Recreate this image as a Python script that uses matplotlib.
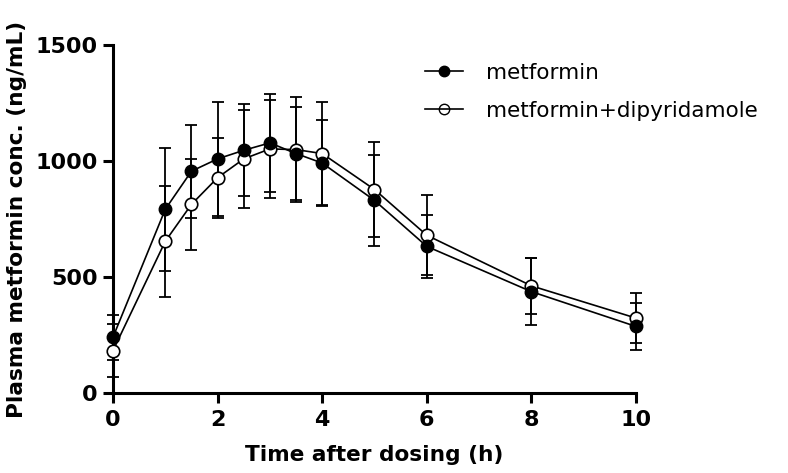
import numpy as np
import matplotlib
matplotlib.use("Agg")
import matplotlib.pyplot as plt
from matplotlib.lines import Line2D

plt.rcParams['font.family'] = ['DejaVu Sans']

# data (mean +/- SD, ng/mL)
time_h = [0, 1, 1.5, 2, 2.5, 3, 3.5, 4, 5, 6, 8, 10]
met_mean = [241, 792, 956, 1009, 1046, 1078, 1032, 991, 830, 632, 437, 287]
met_sd = [97, 265, 201, 246, 199, 212, 200, 184, 196, 135, 143, 100]
dip_mean = [183, 654, 813, 928, 1009, 1052, 1049, 1032, 877, 680, 462, 323]
dip_sd = [115, 240, 197, 173, 210, 210, 227, 222, 205, 172, 120, 107]

x_ticks = [0, 2, 4, 6, 8, 10]
y_ticks = [0, 500, 1000, 1500]

fig = plt.figure(figsize=(7.88, 4.73), dpi=100)
ax = fig.add_axes([0.1434, 0.169, 0.6637, 0.736])

# error bars first, then lines+markers on top
ax.errorbar(time_h, met_mean, yerr=met_sd, fmt='none', ecolor='black',
            elinewidth=1.3, capsize=4.5, capthick=1.3, clip_on=False, zorder=2)
ax.errorbar(time_h, dip_mean, yerr=dip_sd, fmt='none', ecolor='black',
            elinewidth=1.3, capsize=4.5, capthick=1.3, clip_on=False, zorder=2)
ax.plot(time_h, met_mean, color='black', lw=1.2, marker='o', ms=9,
        mfc='black', mec='black', clip_on=False, zorder=4)
ax.plot(time_h, dip_mean, color='black', lw=1.2, marker='o', ms=9,
        mfc='white', mec='black', mew=1.2, clip_on=False, zorder=3)

ax.set_xlim(0, 10)
ax.set_ylim(0, 1500)
ax.set_xticks(x_ticks)
ax.set_yticks(y_ticks)
for s in ['top', 'right']:
    ax.spines[s].set_visible(False)
for s in ['left', 'bottom']:
    ax.spines[s].set_linewidth(2.2)
ax.tick_params(width=2.2, length=7, labelsize=16)
ax.tick_params(axis='y', pad=4)
ax.tick_params(axis='x', pad=5)
for lab in ax.get_xticklabels() + ax.get_yticklabels():
    lab.set_fontweight('bold')

ax.set_xlabel('Time after dosing (h)', fontsize=15.6, fontweight='bold', labelpad=11)
ax.set_ylabel('Plasma metformin conc. (ng/mL)', fontsize=15.6, fontweight='bold', labelpad=6)

handles = [
    Line2D([], [], color='black', lw=1.2, marker='o', ms=7.5, mfc='black'),
    Line2D([], [], color='black', lw=1.2, marker='o', ms=7.5, mfc='none'),
]
ax.legend(handles, ['metformin', 'metformin+dipyridamole'], loc='upper left',
          bbox_to_anchor=(0.576, 0.98), frameon=False, fontsize=15.5,
          borderpad=0, handlelength=1.77, handletextpad=1.07, labelspacing=0.83)

fig.savefig('out.png', dpi=100)
